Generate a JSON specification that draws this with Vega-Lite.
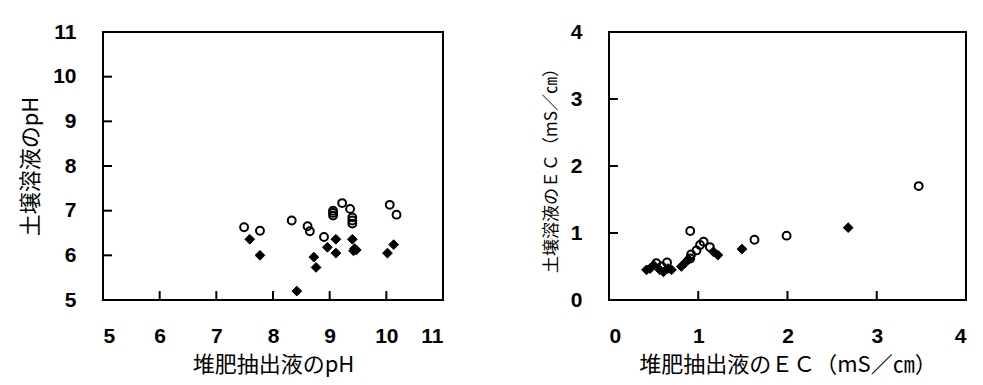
{
  "$schema": "https://vega.github.io/schema/vega-lite/v6.json",
  "padding": {"left": 18, "top": 20, "right": 5, "bottom": 5},
  "background": "white",
  "config": {
    "view": {"stroke": "black", "strokeWidth": 2},
    "axis": {
      "domain": false, "ticks": false, "grid": false,
      "labelFont": "Liberation Sans", "labelFontSize": 21, "labelFontWeight": "bold", "labelColor": "black",
      "titleFont": "Noto Sans CJK JP", "titleFontSize": 22, "titleFontWeight": "normal", "titleColor": "black"
    },
    "axisX": {"titlePadding": 8, "labelPadding": 25},
    "axisY": {"titlePadding": 10, "labelPadding": 27}
  },
  "datasets": {
    "ph": [
      {"x": 7.49, "y": 6.63, "type": "open"},
      {"x": 7.77, "y": 6.55, "type": "open"},
      {"x": 8.33, "y": 6.78, "type": "open"},
      {"x": 8.61, "y": 6.65, "type": "open"},
      {"x": 8.65, "y": 6.54, "type": "open"},
      {"x": 8.90, "y": 6.41, "type": "open"},
      {"x": 9.06, "y": 7.00, "type": "open"},
      {"x": 9.06, "y": 6.95, "type": "open"},
      {"x": 9.06, "y": 6.89, "type": "open"},
      {"x": 9.22, "y": 7.17, "type": "open"},
      {"x": 9.36, "y": 7.04, "type": "open"},
      {"x": 9.40, "y": 6.85, "type": "open"},
      {"x": 9.40, "y": 6.78, "type": "open"},
      {"x": 9.40, "y": 6.71, "type": "open"},
      {"x": 10.06, "y": 7.13, "type": "open"},
      {"x": 10.18, "y": 6.91, "type": "open"},
      {"x": 7.59, "y": 6.36, "type": "filled"},
      {"x": 7.77, "y": 6.00, "type": "filled"},
      {"x": 8.42, "y": 5.20, "type": "filled"},
      {"x": 8.72, "y": 5.96, "type": "filled"},
      {"x": 8.76, "y": 5.73, "type": "filled"},
      {"x": 8.96, "y": 6.18, "type": "filled"},
      {"x": 9.11, "y": 6.36, "type": "filled"},
      {"x": 9.11, "y": 6.05, "type": "filled"},
      {"x": 9.40, "y": 6.36, "type": "filled"},
      {"x": 9.42, "y": 6.10, "type": "filled"},
      {"x": 9.47, "y": 6.12, "type": "filled"},
      {"x": 9.44, "y": 6.15, "type": "filled"},
      {"x": 10.02, "y": 6.05, "type": "filled"},
      {"x": 10.13, "y": 6.24, "type": "filled"}
    ],
    "ec": [
      {"x": 0.53, "y": 0.55, "type": "open"},
      {"x": 0.65, "y": 0.56, "type": "open"},
      {"x": 0.59, "y": 0.50, "type": "open"},
      {"x": 0.91, "y": 0.62, "type": "open"},
      {"x": 0.92, "y": 0.68, "type": "open"},
      {"x": 0.98, "y": 0.74, "type": "open"},
      {"x": 1.02, "y": 0.82, "type": "open"},
      {"x": 1.06, "y": 0.87, "type": "open"},
      {"x": 1.13, "y": 0.79, "type": "open"},
      {"x": 0.91, "y": 1.03, "type": "open"},
      {"x": 1.63, "y": 0.90, "type": "open"},
      {"x": 1.99, "y": 0.96, "type": "open"},
      {"x": 3.47, "y": 1.70, "type": "open"},
      {"x": 0.42, "y": 0.45, "type": "filled"},
      {"x": 0.46, "y": 0.47, "type": "filled"},
      {"x": 0.50, "y": 0.52, "type": "filled"},
      {"x": 0.57, "y": 0.45, "type": "filled"},
      {"x": 0.61, "y": 0.42, "type": "filled"},
      {"x": 0.66, "y": 0.47, "type": "filled"},
      {"x": 0.70, "y": 0.45, "type": "filled"},
      {"x": 0.81, "y": 0.50, "type": "filled"},
      {"x": 0.85, "y": 0.55, "type": "filled"},
      {"x": 0.89, "y": 0.61, "type": "filled"},
      {"x": 1.17, "y": 0.72, "type": "filled"},
      {"x": 1.22, "y": 0.67, "type": "filled"},
      {"x": 1.49, "y": 0.76, "type": "filled"},
      {"x": 2.68, "y": 1.08, "type": "filled"}
    ],
    "phTicks": [{"v": 6}, {"v": 7}, {"v": 8}, {"v": 9}, {"v": 10}],
    "ecTicks": [{"v": 1}, {"v": 2}, {"v": 3}]
  },
  "hconcat": [
    {
      "width": 340, "height": 268,
      "layer": [
        {
          "data": {"name": "ph"},
          "transform": [{"filter": "datum.type === 'open'"}],
          "mark": {"type": "point", "shape": "circle", "filled": false, "stroke": "black", "strokeWidth": 2, "size": 62, "opacity": 1},
          "encoding": {
            "x": {"field": "x", "type": "quantitative", "scale": {"domain": [5, 11], "nice": false}, "axis": {"values": [5,6,7,8,9,10,11], "title": "堆肥抽出液のpH"}},
            "y": {"field": "y", "type": "quantitative", "scale": {"domain": [5, 11], "nice": false, "zero": false}, "axis": {"values": [5,6,7,8,9,10,11], "title": "土壌溶液のpH"}}
          }
        },
        {
          "data": {"name": "ph"},
          "transform": [{"filter": "datum.type === 'filled'"}],
          "mark": {"type": "point", "shape": "diamond", "filled": true, "fill": "black", "stroke": "black", "strokeWidth": 1, "size": 95, "opacity": 1},
          "encoding": {
            "x": {"field": "x", "type": "quantitative", "axis": {"values": [5,6,7,8,9,10,11], "title": "堆肥抽出液のpH"}},
            "y": {"field": "y", "type": "quantitative", "axis": {"values": [5,6,7,8,9,10,11], "title": "土壌溶液のpH"}}
          }
        },
        {
          "data": {"name": "phTicks"},
          "mark": {"type": "rule", "color": "black", "strokeWidth": 2},
          "encoding": {
            "x": {"field": "v", "type": "quantitative", "axis": {"values": [5,6,7,8,9,10,11], "title": "堆肥抽出液のpH"}},
            "y": {"datum": 5, "type": "quantitative", "axis": {"values": [5,6,7,8,9,10,11], "title": "土壌溶液のpH"}},
            "y2": {"datum": 5.2}
          }
        },
        {
          "data": {"name": "phTicks"},
          "mark": {"type": "rule", "color": "black", "strokeWidth": 2},
          "encoding": {
            "y": {"field": "v", "type": "quantitative", "axis": {"values": [5,6,7,8,9,10,11], "title": "土壌溶液のpH"}},
            "x": {"datum": 5, "type": "quantitative", "axis": {"values": [5,6,7,8,9,10,11], "title": "堆肥抽出液のpH"}},
            "x2": {"datum": 5.16}
          }
        }
      ]
    },
    {
      "width": 357, "height": 268,
      "layer": [
        {
          "data": {"name": "ec"},
          "transform": [{"filter": "datum.type === 'open'"}],
          "mark": {"type": "point", "shape": "circle", "filled": false, "stroke": "black", "strokeWidth": 2, "size": 62, "opacity": 1},
          "encoding": {
            "x": {"field": "x", "type": "quantitative", "scale": {"domain": [0, 4], "nice": false}, "axis": {"values": [0,1,2,3,4], "title": "堆肥抽出液のＥＣ（mS／㎝）"}},
            "y": {"field": "y", "type": "quantitative", "scale": {"domain": [0, 4], "nice": false}, "axis": {"values": [0,1,2,3,4], "title": "土壌溶液のＥＣ（mS／㎝）", "titleFontSize": 17}}
          }
        },
        {
          "data": {"name": "ec"},
          "transform": [{"filter": "datum.type === 'filled'"}],
          "mark": {"type": "point", "shape": "diamond", "filled": true, "fill": "black", "stroke": "black", "strokeWidth": 1, "size": 95, "opacity": 1},
          "encoding": {
            "x": {"field": "x", "type": "quantitative", "axis": {"values": [0,1,2,3,4], "title": "堆肥抽出液のＥＣ（mS／㎝）"}},
            "y": {"field": "y", "type": "quantitative", "axis": {"values": [0,1,2,3,4], "title": "土壌溶液のＥＣ（mS／㎝）", "titleFontSize": 17}}
          }
        },
        {
          "data": {"name": "ecTicks"},
          "mark": {"type": "rule", "color": "black", "strokeWidth": 2},
          "encoding": {
            "x": {"field": "v", "type": "quantitative", "axis": {"values": [0,1,2,3,4], "title": "堆肥抽出液のＥＣ（mS／㎝）"}},
            "y": {"datum": 0, "type": "quantitative", "axis": {"values": [0,1,2,3,4], "title": "土壌溶液のＥＣ（mS／㎝）", "titleFontSize": 17}},
            "y2": {"datum": 0.134}
          }
        },
        {
          "data": {"name": "ecTicks"},
          "mark": {"type": "rule", "color": "black", "strokeWidth": 2},
          "encoding": {
            "y": {"field": "v", "type": "quantitative", "axis": {"values": [0,1,2,3,4], "title": "土壌溶液のＥＣ（mS／㎝）", "titleFontSize": 17}},
            "x": {"datum": 0, "type": "quantitative", "axis": {"values": [0,1,2,3,4], "title": "堆肥抽出液のＥＣ（mS／㎝）"}},
            "x2": {"datum": 0.1}
          }
        }
      ]
    }
  ],
  "spacing": 97
}
